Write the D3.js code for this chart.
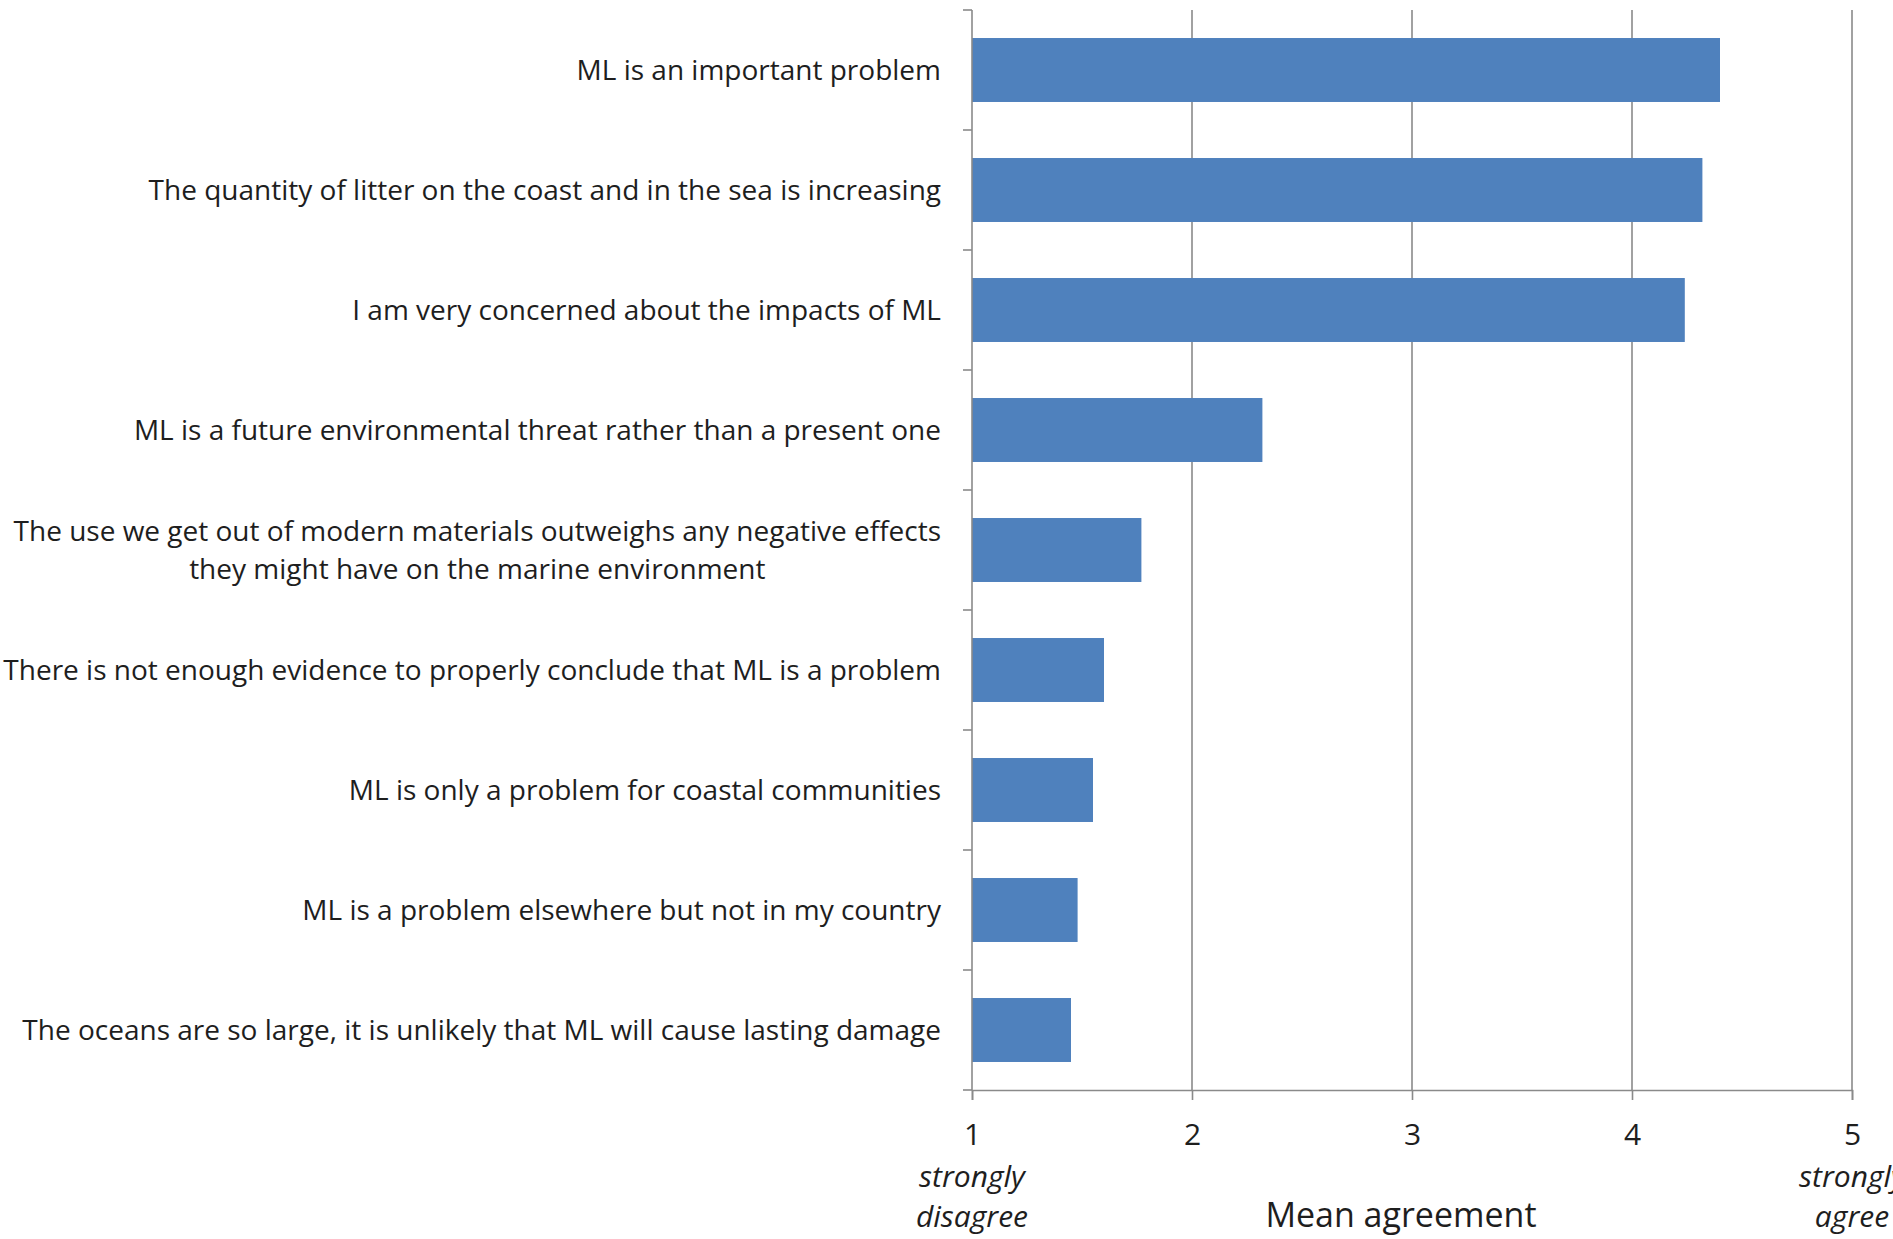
<!DOCTYPE html>
<html>
<head>
<meta charset="utf-8">
<script src="https://cdn.jsdelivr.net/npm/d3@7/dist/d3.min.js"></script>
<style>
  html, body { margin: 0; padding: 0; background: #fff; overflow: hidden; }
  svg { display: block; }
  text { font-family: "Open Sans", "Noto Sans", sans-serif; fill: #1e1e1e; }
</style>
</head>
<body>
<svg id="chart" width="1893" height="1239"></svg>
<script>
// ---- Data ----
const statements = [
  ["ML is an important problem"],
  ["The quantity of litter on the coast and in the sea is increasing"],
  ["I am very concerned about the impacts of ML"],
  ["ML is a future environmental threat rather than a present one"],
  ["The use we get out of modern materials outweighs any negative effects", "they might have on the marine environment"],
  ["There is not enough evidence to properly conclude that ML is a problem"],
  ["ML is only a problem for coastal communities"],
  ["ML is a problem elsewhere but not in my country"],
  ["The oceans are so large, it is unlikely that ML will cause lasting damage"]
];
const meanAgreement = [4.40, 4.32, 4.24, 2.32, 1.77, 1.60, 1.55, 1.48, 1.45];
const xTicks = [1, 2, 3, 4, 5];
const tickSubLabels = { 1: ["strongly", "disagree"], 5: ["strongly", "agree"] };
const xAxisTitle = "Mean agreement";

// ---- Layout ----
const margin = { left: 972, right: 41, top: 10, bottom: 149 };
const W = 1893, H = 1239;
const plotW = W - margin.left - margin.right;
const plotH = H - margin.top - margin.bottom;

const svg = d3.select("#chart");
const g = svg.append("g").attr("transform", `translate(${margin.left},${margin.top})`);

const ids = statements.map((d, i) => i);
const x = d3.scaleLinear().domain([1, 5]).range([0, plotW]);
const y = d3.scaleBand().domain(ids).range([0, plotH]).paddingInner(0.467).paddingOuter(0.2335);

const gridColor = "#8a8a8a";
const labelSize = 28;

// gridlines
g.append("g").selectAll("line")
  .data(xTicks.filter(t => t !== 1))
  .join("line")
  .attr("x1", d => x(d)).attr("x2", d => x(d))
  .attr("y1", 0).attr("y2", plotH)
  .attr("stroke", gridColor).attr("stroke-width", 1.6);

// bars
g.append("g").selectAll("rect")
  .data(meanAgreement)
  .join("rect")
  .attr("x", x(1))
  .attr("y", (d, i) => y(i))
  .attr("width", d => x(d) - x(1))
  .attr("height", y.bandwidth())
  .attr("fill", "#4f81bd");

// y axis line + ticks at band boundaries
g.append("line")
  .attr("x1", 0).attr("x2", 0).attr("y1", 0).attr("y2", plotH)
  .attr("stroke", gridColor).attr("stroke-width", 1.6);
const step = y.step();
g.append("g").selectAll("line")
  .data(d3.range(statements.length + 1))
  .join("line")
  .attr("x1", -9).attr("x2", 0)
  .attr("y1", d => d * step).attr("y2", d => d * step)
  .attr("stroke", gridColor).attr("stroke-width", 1.6);

// x axis
const xAxis = d3.axisBottom(x).tickValues(xTicks).tickSize(10).tickPadding(24).tickFormat(d3.format("d"));
const xg = g.append("g").attr("transform", `translate(0,${plotH})`).call(xAxis);
xg.select(".domain").attr("stroke", gridColor).attr("stroke-width", 1.6);
xg.selectAll(".tick line").attr("stroke", gridColor).attr("stroke-width", 1.6);
xg.selectAll(".tick text")
  .attr("font-size", 30).attr("fill", "#1e1e1e")
  .style("font-family", '"Open Sans", sans-serif');

// sub-labels (strongly disagree / agree)
Object.entries(tickSubLabels).forEach(([t, lines]) => {
  const txt = g.append("text")
    .attr("text-anchor", "middle")
    .attr("font-size", 30)
    .attr("font-style", "italic");
  lines.forEach((l, i) => {
    txt.append("tspan").attr("x", x(+t)).attr("y", plotH + 97 + i * 40).text(l);
  });
});

// x axis title
g.append("text")
  .attr("x", x(3) - 11)
  .attr("y", plotH + 137)
  .attr("text-anchor", "middle")
  .attr("font-size", 34)
  .text(xAxisTitle);

// category labels
const labelX = -31;
const lineH = 38;
const lg = g.append("g");
statements.forEach((lines, i) => {
  const cy = y(i) + y.bandwidth() / 2;
  if (lines.length === 1) {
    lg.append("text")
      .attr("x", labelX)
      .attr("y", cy)
      .attr("dy", "0.35em")
      .attr("text-anchor", "end")
      .attr("font-size", labelSize)
      .text(lines[0]);
  } else {
    const t = lg.append("text").attr("font-size", labelSize).attr("text-anchor", "middle");
    const tmp = lg.append("text").attr("font-size", labelSize).text(lines[0]);
    const wMax = d3.max(lines, l => { tmp.text(l); return tmp.node().getComputedTextLength(); });
    tmp.remove();
    const cx = labelX - wMax / 2;
    lines.forEach((l, k) => {
      t.append("tspan")
        .attr("x", cx)
        .attr("y", cy + (k - (lines.length - 1) / 2) * lineH)
        .attr("dy", "0.35em")
        .text(l);
    });
  }
});
</script>
</body>
</html>
